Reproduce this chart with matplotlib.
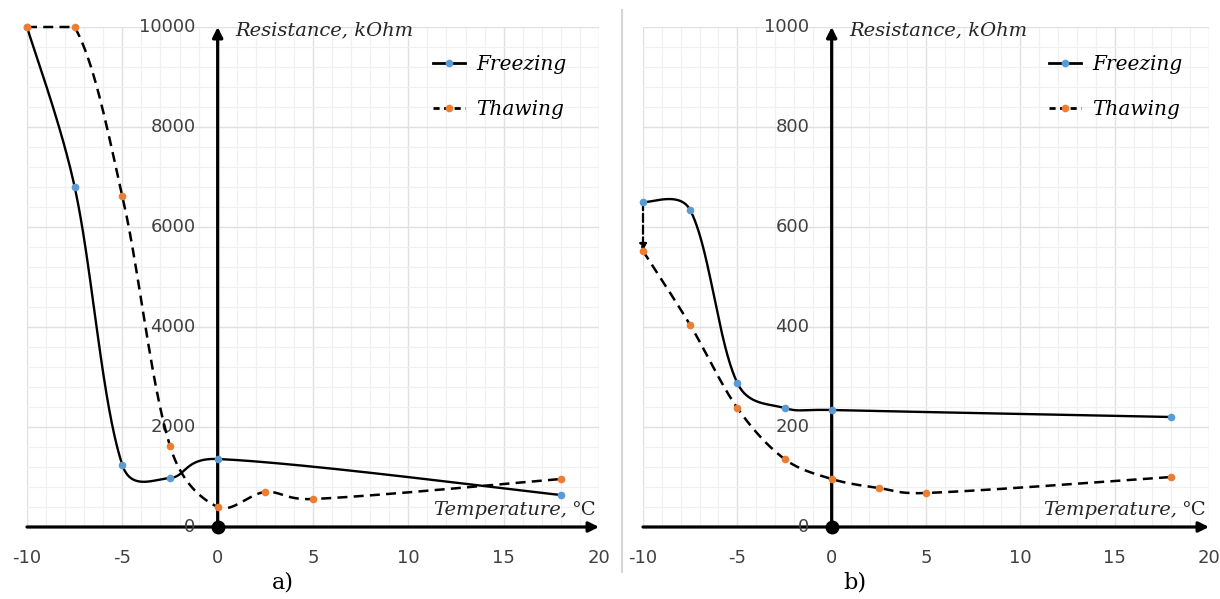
import numpy as np
import matplotlib.pyplot as plt
from matplotlib.lines import Line2D
from matplotlib.transforms import offset_copy

# temperatures (°C) and resistance (kOhm), panel a) and b)
freeze_t = [-10, -7.5, -5, -2.5, 0, 18]
thaw_t = [-10, -7.5, -5, -2.5, 0, 2.5, 5, 18]
freeze_a = [10000, 6800, 1240, 980, 1360, 640]
thaw_a = [10000, 10000, 6620, 1620, 400, 700, 560, 960]
freeze_b = [650, 634, 288, 238, 234, 220]
thaw_b = [552, 404, 238, 136, 96, 78, 68, 100]

x_ticks = [-10, -5, 0, 5, 10, 15, 20]
y_ticks_a = [0, 2000, 4000, 6000, 8000, 10000]
y_ticks_b = [0, 200, 400, 600, 800, 1000]

BLUE = '#5b9bd5'
ORANGE = '#ed7d31'
TICK_C = '#404040'
SERIF = 'DejaVu Serif'

W, H = 1220, 599
fig = plt.figure(figsize=(W / 100, H / 100), dpi=100)


def smooth(ax, xs, ys, n=60):
    # bezier smoothing in screen space; tangent length shrinks next to short segments
    p = ax.transData.transform(np.column_stack([xs, ys]))
    m = len(p)
    seg_len = np.hypot(*np.diff(p, axis=0).T)
    out = [p[:1]]
    t = np.linspace(0, 1, n)[1:, None]
    for i in range(m - 1):
        p0, p1 = p[i], p[i + 1]
        if i == 0:
            c1 = p0 + (p1 - p0) / 6
        else:
            r = seg_len[i] / (seg_len[i - 1] + seg_len[i])
            c1 = p0 + (p1 - p[i - 1]) * np.sqrt(2 * r) / 6
        if i + 2 >= m:
            c2 = p1 - (p1 - p0) / 6
        else:
            r = seg_len[i] / (seg_len[i] + seg_len[i + 1])
            c2 = p1 - (p[i + 2] - p0) * np.sqrt(2 * r) / 6
        b = ((1 - t) ** 3 * p0 + 3 * (1 - t) ** 2 * t * c1
             + 3 * (1 - t) * t ** 2 * c2 + t ** 3 * p1)
        out.append(b)
    pts = ax.transData.inverted().transform(np.vstack(out))
    return pts[:, 0], pts[:, 1]


def panel(x0, width, ymax, yticks, freeze, thaw, label, label_x):
    ax = fig.add_axes([x0 / W, (H - 527) / H, width / W, 500 / H])
    ax.set_xlim(-10, 20)
    ax.set_ylim(0, ymax)
    for s in ax.spines.values():
        s.set_visible(False)
    ax.set_xticks(x_ticks)
    ax.set_xticks(np.arange(-10, 21, 1), minor=True)
    ax.set_yticks(yticks)
    ax.set_yticks(np.linspace(0, ymax, 26), minor=True)
    ax.tick_params(which='both', length=0, labelbottom=False, labelleft=False)
    ax.grid(which='major', color='#e0e0e0', lw=1.0)
    ax.grid(which='minor', color='#f0f0f0', lw=0.9)
    ax.set_axisbelow(True)

    # axes with arrowheads
    arrow = dict(arrowstyle='-|>', lw=2.3, color='black', mutation_scale=15,
                 shrinkA=0, shrinkB=0)
    ax.annotate('', xy=(20, 0), xytext=(-10, 0), arrowprops=arrow,
                annotation_clip=False, zorder=3)
    ax.annotate('', xy=(0, ymax), xytext=(0, 0), arrowprops=arrow,
                annotation_clip=False, zorder=3)
    ax.plot(0, 0, 'o', ms=9, color='black', clip_on=False, zorder=6)

    for v in x_ticks:
        ax.annotate(str(v), (v, 0), xytext=(0, -22), textcoords='offset points',
                    ha='center', va='center', fontsize=13, color=TICK_C,
                    annotation_clip=False)
    for v in yticks:
        ax.annotate(str(v), (0, v), xytext=(-16, 0), textcoords='offset points',
                    ha='right', va='center', fontsize=13, color=TICK_C,
                    annotation_clip=False)

    # smoothed curves are capped at the top of the value axis
    sx, sy = smooth(ax, freeze_t, freeze)
    ax.plot(sx, np.minimum(sy, ymax), color='black', lw=1.7, zorder=4,
            clip_on=False)
    ax.plot(freeze_t, freeze, 'o', ms=4.5, color=BLUE, zorder=5, clip_on=False)
    sx, sy = smooth(ax, thaw_t, thaw)
    ax.plot(sx, np.minimum(sy, ymax), color='black', lw=1.8, dashes=(4, 2.5),
            zorder=4, clip_on=False)
    ax.plot(thaw_t, thaw, 'o', ms=4.5, color=ORANGE, zorder=5, clip_on=False)

    txt = dict(fontsize=14, family=SERIF, color='#262626', va='center')
    ax.text(0.365, 0.994, 'Resistance, kOhm', transform=ax.transAxes,
            ha='left', style='italic', **txt)
    ax.text(0.995, 0.034, '°C', transform=ax.transAxes, ha='right', **txt)
    ax.text(0.995, 0.034, 'Temperature,',
            transform=offset_copy(ax.transAxes, fig=fig, x=-29, units='dots'),
            ha='right', style='italic', **txt)

    handles = [
        Line2D([], [], color='black', lw=2, marker='o', ms=4.5, mfc=BLUE,
               mec=BLUE),
        Line2D([], [], color='black', lw=2, dashes=(2.2, 1.6), marker='o',
               ms=4.5, mfc=ORANGE, mec=ORANGE),
    ]
    ax.legend(handles, ['Freezing', 'Thawing'], loc='upper left',
              bbox_to_anchor=((x0 + 396) / W, 1 - 45 / H),
              bbox_transform=fig.transFigure, frameon=False, borderpad=0,
              handlelength=1.6, handletextpad=0.55, labelspacing=1.3,
              numpoints=1, prop=dict(family=SERIF, style='italic', size=14.5))

    fig.text(label_x / W, 1 - 583 / H, label, ha='center', va='center',
             fontsize=16, family=SERIF)
    return ax


ax_a = panel(27, 572, 10000, y_ticks_a, freeze_a, thaw_a, 'a)', 283)
ax_b = panel(643, 566, 1000, y_ticks_b, freeze_b, thaw_b, 'b)', 855)

# jump from the last freezing value to the first thawing value
ax_b.annotate('', xy=(thaw_t[0], thaw_b[0]), xytext=(freeze_t[0], freeze_b[0]),
              arrowprops=dict(arrowstyle='-|>', lw=1.6, ls='--', color='black',
                              mutation_scale=10, shrinkA=0, shrinkB=0),
              zorder=4, annotation_clip=False)

# thin divider between the panels
fig.add_artist(Line2D([622 / W, 622 / W], [1 - 10 / H, 1 - 572 / H],
                      color='#d6d6d6', lw=1.5))

fig.savefig('out.png', dpi=100)
